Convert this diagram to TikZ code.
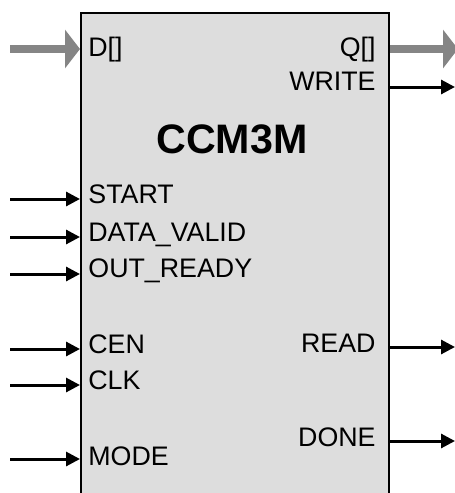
\documentclass[tikz,border=0pt]{standalone}
\usepackage{fontspec}
\setmainfont{Liberation Sans}
\usetikzlibrary{arrows.meta}
\definecolor{blockfill}{HTML}{DDDDDD}
\definecolor{busgray}{HTML}{858585}

\begin{document}
\begin{tikzpicture}[x=0.5pt,y=-0.5pt,font=\fontsize{13.4}{16}\selectfont]
  \tikzstyle{block}=[draw=black,fill=blockfill,line width=1.1pt,anchor=north west,
    minimum width=154pt,minimum height=250pt,inner sep=0pt]
  \tikzstyle{sig}=[line width=1.5pt,-{Triangle[length=7pt,width=7pt]}]
  \tikzstyle{bus}=[line width=4pt,draw=busgray,-{Triangle[length=7.5pt,width=19pt]}]
  \tikzstyle{inlbl}=[inner sep=0pt,anchor=base west]
  \tikzstyle{outlbl}=[inner sep=0pt,anchor=base east]

  \useasboundingbox (0,0) rectangle (455,493);
  \clip (0,0) rectangle (455,493);

  \node[block] (ccm) at (80,12) {};
  \node[font=\bfseries\fontsize{20.6}{24}\selectfont,inner sep=0pt,anchor=base] (title) at (232,153) {CCM3M};

  % ports on the block
  \coordinate (pD)     at (ccm.west |- 0,49);
  \coordinate (pSTART) at (ccm.west |- 0,199);
  \coordinate (pDV)    at (ccm.west |- 0,237);
  \coordinate (pOR)    at (ccm.west |- 0,274);
  \coordinate (pCEN)   at (ccm.west |- 0,349);
  \coordinate (pCLK)   at (ccm.west |- 0,385);
  \coordinate (pMODE)  at (ccm.west |- 0,459);
  \coordinate (pQ)     at (ccm.east |- 0,49);
  \coordinate (pWRITE) at (ccm.east |- 0,87);
  \coordinate (pREAD)  at (ccm.east |- 0,347);
  \coordinate (pDONE)  at (ccm.east |- 0,441);

  % free ends
  \coordinate (sD)     at (10,49);
  \coordinate (sSTART) at (10,199);
  \coordinate (sDV)    at (10,237);
  \coordinate (sOR)    at (10,274);
  \coordinate (sCEN)   at (10,349);
  \coordinate (sCLK)   at (10,385);
  \coordinate (sMODE)  at (10,459);
  \coordinate (eQ)     at (458,49);
  \coordinate (eWRITE) at (455,87);
  \coordinate (eREAD)  at (455,347);
  \coordinate (eDONE)  at (455,441);

  \node[inlbl]  (lD)     at (88,56)    {D[]};
  \node[inlbl]  (lSTART) at (88,203)   {START};
  \node[inlbl]  (lDV)    at (88,241)   {DATA\_VALID};
  \node[inlbl]  (lOR)    at (88,277)   {OUT\_READY};
  \node[inlbl]  (lCEN)   at (88,353)   {CEN};
  \node[inlbl]  (lCLK)   at (88,389)   {CLK};
  \node[inlbl]  (lMODE)  at (88,465)   {MODE};
  \node[outlbl] (lQ)     at (376,56)   {Q[]};
  \node[outlbl] (lWRITE) at (376,90.5) {WRITE};
  \node[outlbl] (lREAD)  at (376,352)  {READ};
  \node[outlbl] (lDONE)  at (376,446)  {DONE};

  \draw[bus] (sD) -- (pD);
  \draw[bus] (pQ) -- (eQ);
  \draw[sig] (sSTART) -- (pSTART);
  \draw[sig] (sDV) -- (pDV);
  \draw[sig] (sOR) -- (pOR);
  \draw[sig] (sCEN) -- (pCEN);
  \draw[sig] (sCLK) -- (pCLK);
  \draw[sig] (sMODE) -- (pMODE);
  \draw[sig] (pWRITE) -- (eWRITE);
  \draw[sig] (pREAD) -- (eREAD);
  \draw[sig] (pDONE) -- (eDONE);
\end{tikzpicture}
\end{document}
